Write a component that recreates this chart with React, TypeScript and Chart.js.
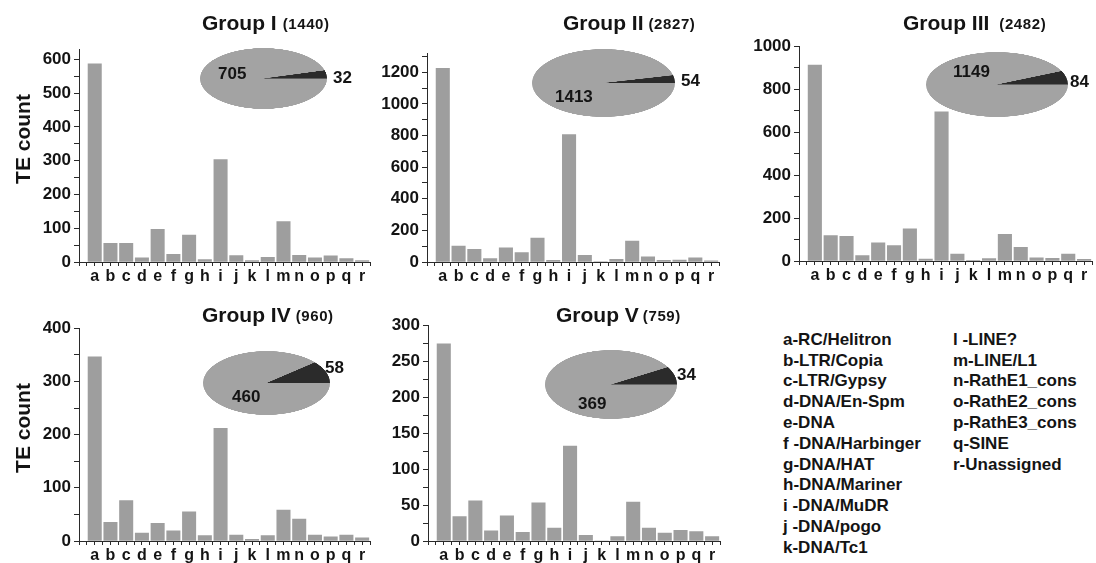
import React, { useEffect, useRef } from 'react';
import { Chart, registerables } from 'chart.js';

Chart.register(...registerables);

// ---------------- data ----------------
const categories = ['a', 'b', 'c', 'd', 'e', 'f', 'g', 'h', 'i', 'j', 'k', 'l', 'm', 'n', 'o', 'p', 'q', 'r'];

const groupI = [587, 55, 55, 12, 97, 23, 80, 7, 303, 19, 4, 14, 120, 20, 12, 18, 10, 4];
const groupII = [1225, 100, 80, 21, 90, 60, 152, 10, 805, 42, 3, 17, 132, 33, 10, 12, 27, 8];
const groupIII = [912, 118, 115, 25, 85, 72, 150, 9, 695, 32, 3, 11, 124, 64, 15, 12, 32, 8];
const groupIV = [346, 35, 76, 15, 33, 19, 55, 10, 212, 11, 3, 10, 58, 41, 11, 8, 11, 6];
const groupV = [274, 34, 56, 14, 35, 12, 53, 18, 132, 8, 0, 6, 54, 18, 11, 15, 13, 6];

const pieI = [705, 32];
const pieII = [1413, 54];
const pieIII = [1149, 84];
const pieIV = [460, 58];
const pieV = [369, 34];

const groupNames = ['Group I', 'Group II', 'Group III', 'Group IV', 'Group V'];
const groupTotals = ['(1440)', '(2827)', '(2482)', '(960)', '(759)'];

const yMaxes = [630, 1320, 1000, 400, 300];
const yMajorSteps = [100, 200, 200, 100, 50];

const legendCol1 = [
  'a-RC/Helitron', 'b-LTR/Copia', 'c-LTR/Gypsy', 'd-DNA/En-Spm', 'e-DNA',
  'f -DNA/Harbinger', 'g-DNA/HAT', 'h-DNA/Mariner', 'i -DNA/MuDR', 'j -DNA/pogo', 'k-DNA/Tc1',
];
const legendCol2 = ['l -LINE?', 'm-LINE/L1', 'n-RathE1_cons', 'o-RathE2_cons', 'p-RathE3_cons', 'q-SINE', 'r-Unassigned'];

const yTitle = 'TE count';

// ---------------- styles / layout ----------------
const FONT = "'Liberation Sans', Arial, Helvetica, sans-serif";
const TEXT = '#141414';
const AXIS = '#2a2a2a';
const BAR = '#9e9e9e';
const PIE_GRAY = '#a3a3a3';
const PIE_DARK = '#2b2b2b';

Chart.defaults.font.family = FONT;
Chart.defaults.color = TEXT;

const YW = 60; // y axis box width
const PT = 12; // top padding
const XH = 24; // x axis box height
const PR = 6; // right padding
const X_MAX = 18.5;

type Geom = { x0: number; x1: number; yTop: number; yBot: number };

const barGeoms: Geom[] = [
  { x0: 79, x1: 370, yTop: 48, yBot: 262 },
  { x0: 427, x1: 719, yTop: 52, yBot: 262 },
  { x0: 799, x1: 1092, yTop: 45, yBot: 261 },
  { x0: 79, x1: 370, yTop: 327, yBot: 541 },
  { x0: 428, x1: 720, yTop: 324, yBot: 541 },
];

const pieGeoms = [
  { left: 200, top: 48, w: 127, h: 61 },
  { left: 532, top: 49, w: 143, h: 68 },
  { left: 926, top: 52, w: 142, h: 65 },
  { left: 203, top: 351, w: 127, h: 64 },
  { left: 545, top: 350, w: 132, h: 69 },
];

// label positions: [bigLabel x, baseline], [smallLabel x, baseline]
const pieLabelPos = [
  [[218, 79], [333, 83]],
  [[555, 102], [681, 86]],
  [[953, 77], [1070, 87]],
  [[232, 402], [325, 373]],
  [[578, 409], [677, 380]],
];

const titlePos = [
  { x: 202, gap: 6, base: 30 },
  { x: 563, gap: 5, base: 30 },
  { x: 903, gap: 10, base: 30 },
  { x: 202, gap: 5, base: 322 },
  { x: 556, gap: 4, base: 322 },
];

function Txt(props: { x: number; base: number; size: number; children: any; ls?: number }) {
  const { x, base, size, children, ls = 0 } = props;
  return (
    <div
      style={{
        position: 'absolute',
        left: x,
        top: base - 0.8465 * size,
        fontSize: size,
        lineHeight: size + 'px',
        fontWeight: 'bold',
        whiteSpace: 'nowrap',
        letterSpacing: ls,
        color: TEXT,
        fontFamily: FONT,
      }}
    >
      {children}
    </div>
  );
}

function Title(props: { x: number; base: number; gap: number; name: string; total: string }) {
  const { x, base, gap, name, total } = props;
  return (
    <div
      style={{
        position: 'absolute',
        left: x,
        top: base - 0.8465 * 21,
        display: 'flex',
        alignItems: 'baseline',
        whiteSpace: 'nowrap',
        fontWeight: 'bold',
        color: TEXT,
        fontFamily: FONT,
        lineHeight: '21px',
      }}
    >
      <span style={{ fontSize: 21 }}>{name}</span>
      <span style={{ fontSize: 15, letterSpacing: 0.6, marginLeft: gap, position: 'relative', top: -1 }}>{total}</span>
    </div>
  );
}

function BarPanel(props: { values: number[]; max: number; step: number; g: Geom }) {
  const { values, max, step, g } = props;
  const ref = useRef<HTMLCanvasElement | null>(null);
  const left = g.x0 - YW;
  const top = g.yTop - PT;
  const width = g.x1 - g.x0 + YW + PR;
  const height = g.yBot - g.yTop + PT + XH;
  useEffect(() => {
    if (!ref.current) return;
    const spacing = (g.x1 - g.x0) / X_MAX;
    const chart = new Chart(ref.current, {
      type: 'bar',
      data: {
        datasets: [
          {
            data: values.map((v, i) => ({ x: i + 1, y: v })),
            backgroundColor: BAR,
            borderWidth: 0,
            barThickness: spacing * 0.85,
          } as any,
        ],
      },
      options: {
        responsive: false,
        animation: false,
        events: [],
        layout: { padding: { top: PT, right: PR, left: 0, bottom: 0 } },
        plugins: { legend: { display: false }, tooltip: { enabled: false }, title: { display: false } },
        scales: {
          x: {
            type: 'linear',
            min: 0,
            max: X_MAX,
            offset: false,
            afterBuildTicks: (axis: any) => {
              const t = [];
              for (let v = 0; v <= X_MAX + 1e-9; v += 0.5) t.push({ value: v });
              axis.ticks = t;
            },
            afterFit: (s: any) => {
              s.height = XH;
            },
            grid: {
              offset: false,
              drawOnChartArea: false,
              drawTicks: true,
              tickLength: 4,
              color: AXIS,
              tickColor: AXIS,
              lineWidth: 1,
            },
            border: { display: true, color: AXIS, width: 1 },
            ticks: {
              autoSkip: false,
              maxRotation: 0,
              minRotation: 0,
              padding: 1,
              color: TEXT,
              font: { size: 16, weight: 'bold' },
              callback: (v: any) => {
                const n = Number(v);
                return Number.isInteger(n) && n >= 1 && n <= categories.length ? categories[n - 1] : '';
              },
            },
          } as any,
          y: {
            type: 'linear',
            min: 0,
            max: max,
            afterBuildTicks: (axis: any) => {
              const t = [];
              for (let v = 0; v <= max + 1e-9; v += step / 2) t.push({ value: v });
              axis.ticks = t;
            },
            afterFit: (s: any) => {
              s.width = YW;
            },
            grid: {
              drawOnChartArea: false,
              drawTicks: true,
              tickLength: 5,
              color: AXIS,
              tickColor: AXIS,
              lineWidth: 1,
            },
            border: { display: true, color: AXIS, width: 1 },
            ticks: {
              autoSkip: false,
              padding: 3,
              color: TEXT,
              font: { size: 17, weight: 'bold' },
              callback: (v: any) => (Number(v) % step === 0 ? String(v) : ''),
            },
          } as any,
        },
      } as any,
    });
    return () => chart.destroy();
  }, []);
  return (
    <canvas
      ref={ref}
      width={width}
      height={height}
      style={{ position: 'absolute', left, top, width, height }}
    />
  );
}

function PiePanel(props: { values: number[]; g: { left: number; top: number; w: number; h: number } }) {
  const { values, g } = props;
  const ref = useRef<HTMLCanvasElement | null>(null);
  useEffect(() => {
    if (!ref.current) return;
    const chart = new Chart(ref.current, {
      type: 'pie',
      data: {
        labels: ['other', 'highlight'],
        datasets: [
          {
            data: values,
            backgroundColor: [PIE_GRAY, PIE_DARK],
            borderWidth: 0,
            hoverOffset: 0,
            offset: 0,
          } as any,
        ],
      },
      options: {
        responsive: false,
        animation: false,
        events: [],
        rotation: 90,
        layout: { padding: 0 },
        plugins: { legend: { display: false }, tooltip: { enabled: false } },
      } as any,
    });
    return () => chart.destroy();
  }, []);
  return (
    <canvas
      ref={ref}
      width={300}
      height={300}
      style={{ position: 'absolute', left: g.left, top: g.top, width: g.w, height: g.h }}
    />
  );
}

const barSeries = [groupI, groupII, groupIII, groupIV, groupV];
const pieSeries = [pieI, pieII, pieIII, pieIV, pieV];

export default function App() {
  return (
    <div
      style={{
        position: 'absolute',
        left: 0,
        top: 0,
        width: 1096,
        height: 563,
        overflow: 'hidden',
        background: '#ffffff',
        fontFamily: FONT,
      }}
    >
      {barSeries.map((vals, i) => (
        <BarPanel key={'b' + i} values={vals} max={yMaxes[i]} step={yMajorSteps[i]} g={barGeoms[i]} />
      ))}
      {pieSeries.map((vals, i) => (
        <PiePanel key={'p' + i} values={vals} g={pieGeoms[i]} />
      ))}
      {pieSeries.map((vals, i) => (
        <React.Fragment key={'pl' + i}>
          <Txt x={pieLabelPos[i][0][0]} base={pieLabelPos[i][0][1]} size={17}>
            {vals[0]}
          </Txt>
          <Txt x={pieLabelPos[i][1][0]} base={pieLabelPos[i][1][1]} size={17}>
            {vals[1]}
          </Txt>
        </React.Fragment>
      ))}
      {groupNames.map((name, i) => (
        <Title
          key={'t' + i}
          x={titlePos[i].x}
          base={titlePos[i].base}
          gap={titlePos[i].gap}
          name={name}
          total={groupTotals[i]}
        />
      ))}
      {[139, 428].map((cy, i) => (
        <div
          key={'yt' + i}
          style={{
            position: 'absolute',
            left: 23,
            top: cy,
            transform: 'translate(-50%, -50%) rotate(-90deg)',
            fontSize: 21,
            fontWeight: 'bold',
            whiteSpace: 'nowrap',
            color: TEXT,
            lineHeight: '24px',
          }}
        >
          {yTitle}
        </div>
      ))}
      <div
        style={{
          position: 'absolute',
          left: 783,
          top: 329.7,
          fontSize: 17,
          lineHeight: '20.83px',
          fontWeight: 'bold',
          color: TEXT,
          whiteSpace: 'nowrap',
        }}
      >
        {legendCol1.map((s) => (
          <div key={s}>{s}</div>
        ))}
      </div>
      <div
        style={{
          position: 'absolute',
          left: 953,
          top: 329.7,
          fontSize: 17,
          lineHeight: '20.83px',
          fontWeight: 'bold',
          color: TEXT,
          whiteSpace: 'nowrap',
        }}
      >
        {legendCol2.map((s) => (
          <div key={s}>{s}</div>
        ))}
      </div>
    </div>
  );
}
